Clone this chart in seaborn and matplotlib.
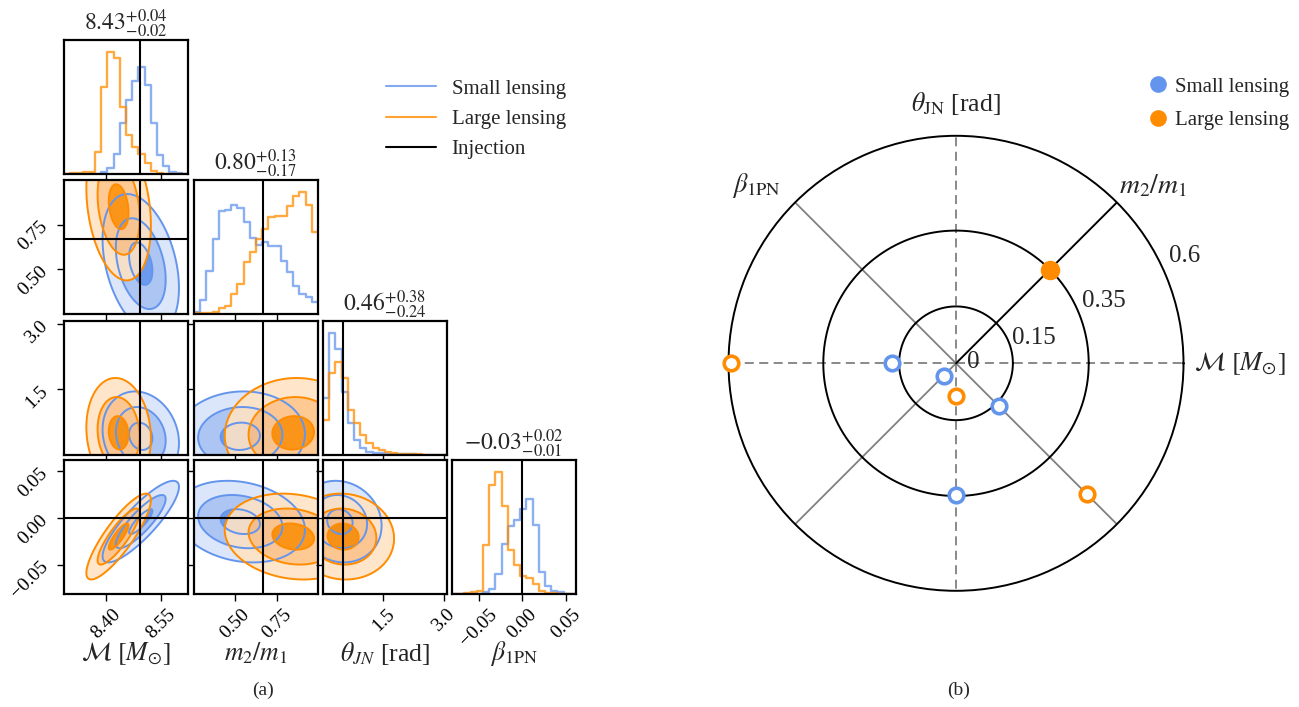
import numpy as np
import pandas as pd
import matplotlib
matplotlib.use("Agg")
import matplotlib.pyplot as plt
import seaborn as sns
from matplotlib.lines import Line2D

sns.set_style("ticks", {"axes.edgecolor": "black", "xtick.color": "black", "ytick.color": "black"})
plt.rcParams["font.family"] = ["Liberation Serif", "DejaVu Serif"]
plt.rcParams["mathtext.fontset"] = "stix"
plt.rcParams["axes.unicode_minus"] = True

BLUE = "#6495ED"
ORANGE = "#FF8C00"

# ---------------- data ----------------
param_labels = [r"$\mathcal{M}\ [M_{\odot}]$", r"$m_2/m_1$", r"$\theta_{JN}$ [rad]", r"$\beta_{\rm 1PN}$"]
param_ranges = [(8.287, 8.623), (0.25, 1.0), (0.0, 3.08), (-0.081, 0.062)]
param_ticks = [[8.40, 8.55], [0.50, 0.75], [1.5, 3.0], [-0.05, 0.00, 0.05]]
param_ticklabels = [["8.40", "8.55"], ["0.50", "0.75"], ["1.5", "3.0"], ["\u22120.05", "0.00", "0.05"]]
injection = [8.494, 0.667, 0.50, 0.0]
show_injection_row = [True, True, False, True]
titles = [r"$8.43^{+0.04}_{-0.02}$", r"$0.80^{+0.13}_{-0.17}$",
          r"$0.46^{+0.38}_{-0.24}$", r"$-0.03^{+0.02}_{-0.01}$"]

# marginal histogram heights (20 bins over each range)
small_hist_mc = [0, 0, 0, 0, 0, 0, 3, 15, 58, 151, 220, 278, 318, 265, 151, 55, 21, 5, 1, 0]
large_hist_mc = [0, 1, 2, 3, 5, 65, 258, 363, 345, 200, 115, 78, 58, 31, 8, 2, 0, 0, 0, 0]
small_hist_q = [3, 41, 128, 223, 306, 310, 326, 316, 275, 226, 206, 213, 203, 203, 158, 123, 83, 58, 48, 33]
large_hist_q = [1, 1, 2, 3, 15, 23, 58, 88, 153, 183, 223, 253, 288, 291, 291, 321, 351, 363, 326, 245]
small_hist_theta = [168, 361, 313, 185, 93, 43, 20, 8, 3, 3, 1, 1, 1, 1, 1, 0, 0, 0, 0, 0]
large_hist_theta = [103, 241, 275, 228, 133, 93, 58, 33, 20, 13, 7, 4, 2, 1, 1, 1, 0, 0, 0, 0]
small_hist_beta = [0, 0, 0, 0, 0, 3, 13, 58, 148, 201, 220, 250, 280, 203, 65, 23, 6, 3, 0, 0]
large_hist_beta = [0, 0, 2, 3, 8, 145, 323, 361, 261, 128, 85, 51, 45, 28, 8, 2, 1, 0, 0, 0]
small_hists = [small_hist_mc, small_hist_q, small_hist_theta, small_hist_beta]
large_hists = [large_hist_mc, large_hist_q, large_hist_theta, large_hist_beta]

# 2D posterior summaries (centre, spread, correlations) for the contour panels
small_mean = [8.495, 0.53, 0.42, -0.004]
small_sigma = [0.045, 0.17, 0.45, 0.019]
small_corr = [[1.0, -0.35, -0.15, 0.85],
              [-0.35, 1.0, 0.05, -0.20],
              [-0.15, 0.05, 1.0, -0.10],
              [0.85, -0.20, -0.10, 1.0]]
large_mean = [8.435, 0.85, 0.50, -0.020]
large_sigma = [0.038, 0.18, 0.55, 0.020]
large_corr = [[1.0, -0.25, -0.10, 0.85],
              [-0.25, 1.0, 0.05, -0.15],
              [-0.10, 0.05, 1.0, -0.05],
              [0.85, -0.15, -0.05, 1.0]]
contour_levels = [0.7, 1.5, 2.3]

# radar panel
radar_params = [r"$\mathcal{M}\ [M_{\odot}]$", r"$m_2/m_1$", r"$\theta_{\rm JN}$ [rad]", r"$\beta_{\rm 1PN}$"]
radar_angles_deg = [0, 45, 90, 135]
small_bias = [-0.168, -0.046, -0.347, -0.160]
large_bias = [-0.593, 0.349, -0.086, -0.488]
ring_values = [0.15, 0.35, 0.6]
ring_labels = ["0", "0.15", "0.35", "0.6"]

# ---------------- figure ----------------
W, H = 1299, 707
fig = plt.figure(figsize=(W / 100, H / 100), dpi=100)


def px_axes(left, top, w, h):
    return [left / W, 1 - (top + h) / H, w / W, h / H]


col_left = [64, 194, 323, 452]
row_top = [40, 180, 321, 460]
pw, ph = 124, 133.5

blue_fills = ["#6495ED", "#A9C2F3", "#DAE5FA"]
orange_fills = ["#FF8C00", "#FFC387", "#FFE3C4"]


def mahal(X, Y, mx, my, sx, sy, rho):
    dx = (X - mx) / sx
    dy = (Y - my) / sy
    return np.sqrt((dx ** 2 - 2 * rho * dx * dy + dy ** 2) / (1 - rho ** 2))


for i in range(4):
    for j in range(i + 1):
        ax = fig.add_axes(px_axes(col_left[j], row_top[i], pw, ph))
        if i == j:
            for counts, color in ((small_hists[i], BLUE), (large_hists[i], ORANGE)):
                edges = np.linspace(*param_ranges[i], len(counts) + 1)
                df = pd.DataFrame({"x": 0.5 * (edges[:-1] + edges[1:]), "w": counts})
                sns.histplot(data=df, x="x", weights="w", bins=len(counts), binrange=param_ranges[i],
                             element="step", fill=False, color=color, alpha=0.75,
                             linewidth=1.7, ax=ax)
            ax.set_ylim(0, 1.1 * max(max(small_hists[i]), max(large_hists[i])))
            ax.axvline(injection[i], color="black", lw=1.5, zorder=5)
            ax.set_yticks([])
            ax.set_ylabel("")
            ax.set_title(titles[i], fontsize=17, pad=6)
        else:
            xs = np.linspace(*param_ranges[j], 220)
            ys = np.linspace(*param_ranges[i], 220)
            X, Y = np.meshgrid(xs, ys)
            Rs = mahal(X, Y, small_mean[j], small_mean[i], small_sigma[j], small_sigma[i], small_corr[i][j])
            Rl = mahal(X, Y, large_mean[j], large_mean[i], large_sigma[j], large_sigma[i], large_corr[i][j])
            lv = [0] + contour_levels
            ax.contourf(X, Y, Rs, levels=lv, colors=blue_fills, alpha=0.95)
            ax.contourf(X, Y, Rl, levels=lv, colors=orange_fills, alpha=0.9)
            ax.contour(X, Y, Rs, levels=contour_levels, colors=BLUE, linewidths=1.4)
            ax.contour(X, Y, Rl, levels=contour_levels, colors=ORANGE, linewidths=1.4)
            ax.axvline(injection[j], color="black", lw=1.5, zorder=5)
            if show_injection_row[i]:
                ax.axhline(injection[i], color="black", lw=1.5, zorder=5)
            ax.set_ylim(*param_ranges[i])
            ax.set_yticks(param_ticks[i])
            if j == 0:
                ax.set_yticklabels(param_ticklabels[i], rotation=45, fontsize=14)
            else:
                ax.set_yticklabels([])
        ax.set_xlim(*param_ranges[j])
        ax.set_xticks(param_ticks[j])
        if i == 3:
            ax.set_xticklabels(param_ticklabels[j], rotation=45, fontsize=14)
            ax.set_xlabel(param_labels[j], fontsize=18.5)
            ax.xaxis.label.set_va("center")
            ax.xaxis.set_label_coords(0.5, -0.45)
        else:
            ax.set_xticklabels([])
            ax.set_xlabel("")
        ax.tick_params(direction="out", length=5, width=1.0, pad=4)
        for s in ax.spines.values():
            s.set_linewidth(1.6)
            s.set_color("black")
            s.set_visible(True)

leg_handles = [Line2D([], [], color=BLUE, lw=1.5, alpha=0.8),
               Line2D([], [], color=ORANGE, lw=1.5, alpha=0.8),
               Line2D([], [], color="black", lw=1.5)]
fig.legend(handles=leg_handles, labels=["Small lensing", "Large lensing", "Injection"],
           loc="upper left", bbox_to_anchor=(386 / W, 1 - 79 / H), frameon=False, fontsize=15,
           handlelength=2.4, handletextpad=0.75, labelspacing=0.52, borderpad=0, borderaxespad=0)

fig.text(263 / W, 1 - 690 / H, "(a)", ha="center", va="center", fontsize=14)
fig.text(959 / W, 1 - 690 / H, "(b)", ha="center", va="center", fontsize=14)

# ---------------- radar panel ----------------
cx, cy, rad = 956, 363.3, 227.5
pax = fig.add_axes(px_axes(cx - rad, cy - rad, 2 * rad, 2 * rad), projection="polar")
rmax = ring_values[-1]
pax.grid(False)

for ang in range(0, 360, 45):
    t = np.deg2rad(ang)
    if ang % 90 == 0:
        pax.plot([t, t], [0, rmax], color="#808080", lw=1.3, ls="--", dashes=(5, 3), zorder=1)
    elif ang == 45:
        pax.plot([t, t], [0, rmax], color="black", lw=1.4, zorder=2)
    else:
        pax.plot([t, t], [0, rmax], color="#808080", lw=1.3, zorder=1)

tt = np.linspace(0, 2 * np.pi, 500)
for rv in ring_values[:-1]:
    pax.plot(tt, np.full_like(tt, rv), color="black", lw=1.4, zorder=2)

for bias, color in ((small_bias, BLUE), (large_bias, ORANGE)):
    b = np.array(bias)
    ang = np.deg2rad(np.array(radar_angles_deg) + np.where(b < 0, 180, 0))
    r = np.abs(b)
    pos = b > 0
    if np.any(~pos):
        sns.scatterplot(x=ang[~pos], y=r[~pos], ax=pax, s=110, color=color, zorder=6)
        coll = pax.collections[-1]
        coll.set_facecolor("white")
        coll.set_edgecolor(color)
        coll.set_linewidth(2.6)
        coll.set_clip_on(False)
    if np.any(pos):
        sns.scatterplot(x=ang[pos], y=r[pos], ax=pax, s=170, color=color, zorder=6)
        coll = pax.collections[-1]
        coll.set_facecolor(color)
        coll.set_edgecolor(color)
        coll.set_linewidth(1)
        coll.set_clip_on(False)

pax.set_ylim(0, rmax)
pax.set_xticks([])
pax.set_yticks([])
pax.set_xlabel("")
pax.set_ylabel("")
pax.spines["polar"].set_linewidth(1.4)
pax.spines["polar"].set_color("black")

ring_label_r = [0.045, 0.215, 0.423, 0.665]
ring_label_ang = [5.4, 18.2, 22.7, 25.2]
for lab, rr, aa in zip(ring_labels, ring_label_r, ring_label_ang):
    pax.text(np.deg2rad(aa), rr, lab, ha="center", va="center", fontsize=18)

pax.text(np.deg2rad(0), 0.629, radar_params[0], ha="left", va="center", fontsize=19)
pax.text(np.deg2rad(42), 0.70, radar_params[1], ha="center", va="center", fontsize=20)
pax.text(np.deg2rad(90), 0.685, radar_params[2], ha="center", va="center", fontsize=18.5)
pax.text(np.deg2rad(138.3), 0.703, radar_params[3], ha="center", va="center", fontsize=19)

rh = [Line2D([], [], marker="o", ls="", color=BLUE, markersize=11),
      Line2D([], [], marker="o", ls="", color=ORANGE, markersize=11)]
fig.legend(handles=rh, labels=["Small lensing", "Large lensing"], loc="upper right",
           bbox_to_anchor=(1289 / W, 1 - 77 / H), frameon=False, fontsize=15,
           handletextpad=0.3, labelspacing=0.68, borderpad=0, borderaxespad=0, handlelength=1.0)

fig.savefig("out.png", dpi=100)
